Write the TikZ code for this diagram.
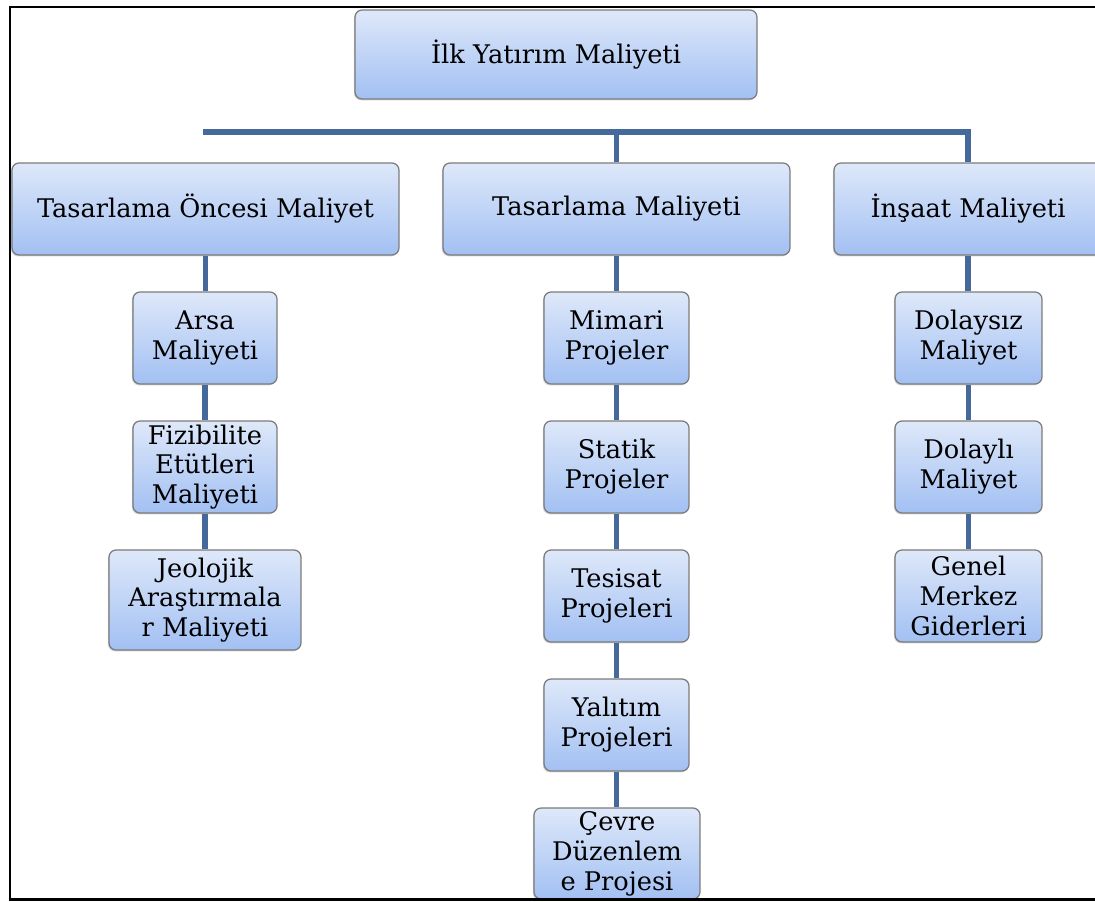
\documentclass[tikz,border=0pt]{standalone}
\usepackage{fontspec}
\setmainfont{DejaVu Serif}
\usetikzlibrary{shadows}

\definecolor{kututop}{HTML}{DEE8F9}
\definecolor{kutubot}{HTML}{A2C0F3}
\definecolor{kutukenar}{HTML}{7B7B7B}
\definecolor{bagmavi}{HTML}{45699A}

\tikzset{
  kutu/.style={draw=kutukenar, line width=0.7pt, rounded corners=4pt,
    top color=kututop, bottom color=kutubot, align=center, inner sep=0pt,
    minimum height=1.84cm, font=\fontsize{14.6}{17}\selectfont,
    drop shadow={shadow xshift=-0.6pt, shadow yshift=-0.8pt, opacity=0.35}},
  bag/.style={bagmavi, line width=3pt},
}

\begin{document}
\begin{tikzpicture}[x=0.02cm, y=-0.02cm]
  \useasboundingbox (0,0) rectangle (1095,902);

  % ust seviye
  \node[kutu, minimum width=8.04cm, minimum height=1.78cm] (ilk) at (556,54.5) {İlk Yatırım Maliyeti};

  \node[kutu, minimum width=7.74cm] (oncesi) at (205.5,209) {Tasarlama Öncesi Maliyet};
  \node[kutu, minimum width=6.94cm] (tasarim) at (616.5,209) {Tasarlama Maliyeti};
  \node[kutu, minimum width=5.36cm] (insaat) at (968,209) {İnşaat Maliyeti};

  % sol sutun
  \node[kutu, minimum width=2.88cm] (arsa) at (205,338) {Arsa\\Maliyeti};
  \node[kutu, minimum width=2.88cm] (fizibilite) at (205,467) {Fizibilite\\Etütleri\\Maliyeti};
  \node[kutu, minimum width=3.84cm, minimum height=2cm] (jeoloji) at (205,600) {Jeolojik\\Araştırmala\\r Maliyeti};

  % orta sutun
  \node[kutu, minimum width=2.9cm] (mimari) at (616.5,338) {Mimari\\Projeler};
  \node[kutu, minimum width=2.9cm] (statik) at (616.5,467) {Statik\\Projeler};
  \node[kutu, minimum width=2.9cm] (tesisat) at (616.5,596) {Tesisat\\Projeleri};
  \node[kutu, minimum width=2.9cm] (yalitim) at (616.5,725) {Yalıtım\\Projeleri};
  \node[kutu, minimum width=3.32cm, minimum height=1.82cm] (cevre) at (617,853.5) {Çevre\\Düzenlem\\e Projesi};

  % sag sutun
  \node[kutu, minimum width=2.94cm] (dolaysiz) at (968.5,338) {Dolaysız\\Maliyet};
  \node[kutu, minimum width=2.94cm] (dolayli) at (968.5,467) {Dolaylı\\Maliyet};
  \node[kutu, minimum width=2.94cm] (genel) at (968.5,596) {Genel\\Merkez\\Giderleri};

  % baglantilar
  \coordinate (hatbas) at (203,132);
  \draw[bag] (hatbas) -| (insaat.north);
  \draw[bag] (tasarim.north) -- (tasarim.north |- hatbas);
  \foreach \ust/\alt in {oncesi/arsa, arsa/fizibilite, fizibilite/jeoloji,
      tasarim/mimari, mimari/statik, statik/tesisat, tesisat/yalitim, yalitim/cevre,
      insaat/dolaysiz, dolaysiz/dolayli, dolayli/genel}
    \draw[bag] (\ust.south) -- (\ust.south |- \alt.north);

  % cerceve
  \draw[line width=1.7pt] (1095,7) -- (10,7) -- (10,899) -- (1095,899);
\end{tikzpicture}
\end{document}
